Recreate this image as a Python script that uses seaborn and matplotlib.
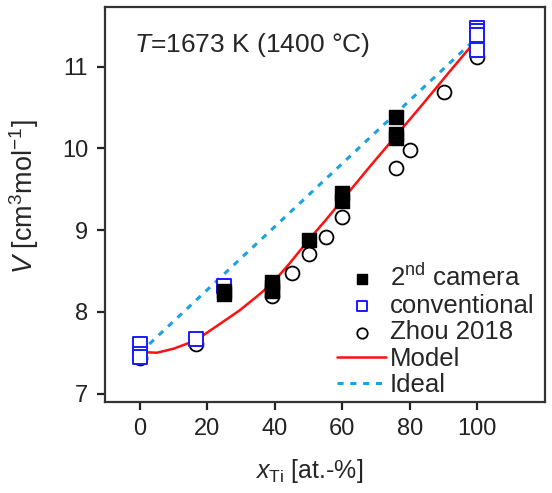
import numpy as np
import pandas as pd
import matplotlib
matplotlib.use("Agg")
import matplotlib.pyplot as plt
import seaborn as sns

# ── Data ─────────────────────────────────────────────────────────────────────
cam_x = [25, 25, 39, 39, 39, 50, 60, 60, 76, 76, 76]
cam_v = [8.22, 8.25, 8.37, 8.30, 8.25, 8.88, 9.45, 9.36, 10.38, 10.18, 10.13]

conv_x = [0, 0, 0, 16.5, 25, 100, 100, 100, 100]
conv_v = [7.61, 7.49, 7.45, 7.67, 8.32, 11.47, 11.43, 11.39, 11.20]

zhou_x = [0, 16.5, 39, 45, 50, 55, 60, 76, 80, 90, 100]
zhou_v = [7.43, 7.61, 8.19, 8.47, 8.71, 8.91, 9.16, 9.76, 9.98, 10.69, 11.12]

model_x = [0, 5, 10, 16.5, 23.6, 29.6, 35, 39.2, 44.3, 50, 55, 60, 68, 76, 84, 92, 100]
model_v = [7.51, 7.50, 7.55, 7.65, 7.85, 8.02, 8.20, 8.35, 8.59, 8.88, 9.12, 9.37, 9.77, 10.16, 10.55, 10.95, 11.34]

ideal_x = [0, 100]
ideal_v = [7.50, 11.36]

# ── Style ────────────────────────────────────────────────────────────────────
sns.set_style("ticks")
plt.rcParams.update({
    "font.family": ["Liberation Sans", "DejaVu Sans"],
    "mathtext.fontset": "custom",
    "mathtext.rm": "Liberation Sans",
    "mathtext.it": "Liberation Sans:italic",
    "axes.edgecolor": "#333333",
    "axes.linewidth": 1.6,
    "xtick.major.width": 1.6,
    "ytick.major.width": 1.6,
    "xtick.major.size": 6,
    "ytick.major.size": 6,
    "xtick.direction": "out",
    "ytick.direction": "out",
})

fig = plt.figure(figsize=(5.52, 4.93), dpi=100)
ax = fig.add_axes([0.190, 0.185, 0.797, 0.801])

sns.lineplot(x=ideal_x, y=ideal_v, ax=ax, color="#1aa3e0", lw=2.2,
             linestyle=(0, (2, 2.2)), label="Ideal", zorder=2)
sns.lineplot(x=model_x, y=model_v, ax=ax, color="#ff1010", lw=1.8,
             label="Model", zorder=2)

sns.scatterplot(x=zhou_x, y=zhou_v, ax=ax, marker="o", s=100, facecolor="white",
                edgecolor="black", linewidth=1.3, label="Zhou 2018", zorder=3)
sns.scatterplot(x=conv_x, y=conv_v, ax=ax, marker="s", s=110, facecolor="white",
                edgecolor="#1a1aff", linewidth=1.4, label="conventional", zorder=4)
sns.scatterplot(x=cam_x, y=cam_v, ax=ax, marker="s", s=110, color="black",
                edgecolor="black", linewidth=1.0, label=r"2$^{\mathrm{nd}}$ camera", zorder=5)

ax.set_xlim(-10.4, 120)
ax.set_ylim(6.90, 11.73)
ax.set_xticks([0, 20, 40, 60, 80, 100])
ax.set_yticks([7, 8, 9, 10, 11])
ax.tick_params(labelsize=17, colors="#222222", pad=6)
ax.tick_params(top=False, right=False)

ax.set_xlabel(r"$x_{\mathrm{Ti}}$ [at.-%]", fontsize=18)
ax.set_ylabel(r"$V$ [cm$^{3}$mol$^{-1}$]", fontsize=19.5)
ax.xaxis.set_label_coords(0.463, -0.14)
ax.yaxis.set_label_coords(-0.145, 0.52)

ax.text(-1.8, 11.27, r"$T$=1673 K (1400 °C)", fontsize=19, va="center", ha="left")

handles, labels = ax.get_legend_handles_labels()
order = [4, 3, 2, 1, 0]
ax.legend([handles[i] for i in order], [labels[i] for i in order],
          loc="lower right", frameon=False, fontsize=18.5, handlelength=1.9,
          handletextpad=0.15, labelspacing=0.1, borderaxespad=0.0,
          markerscale=0.75, bbox_to_anchor=(1.0, -0.015))

fig.savefig("out.png", dpi=100)
